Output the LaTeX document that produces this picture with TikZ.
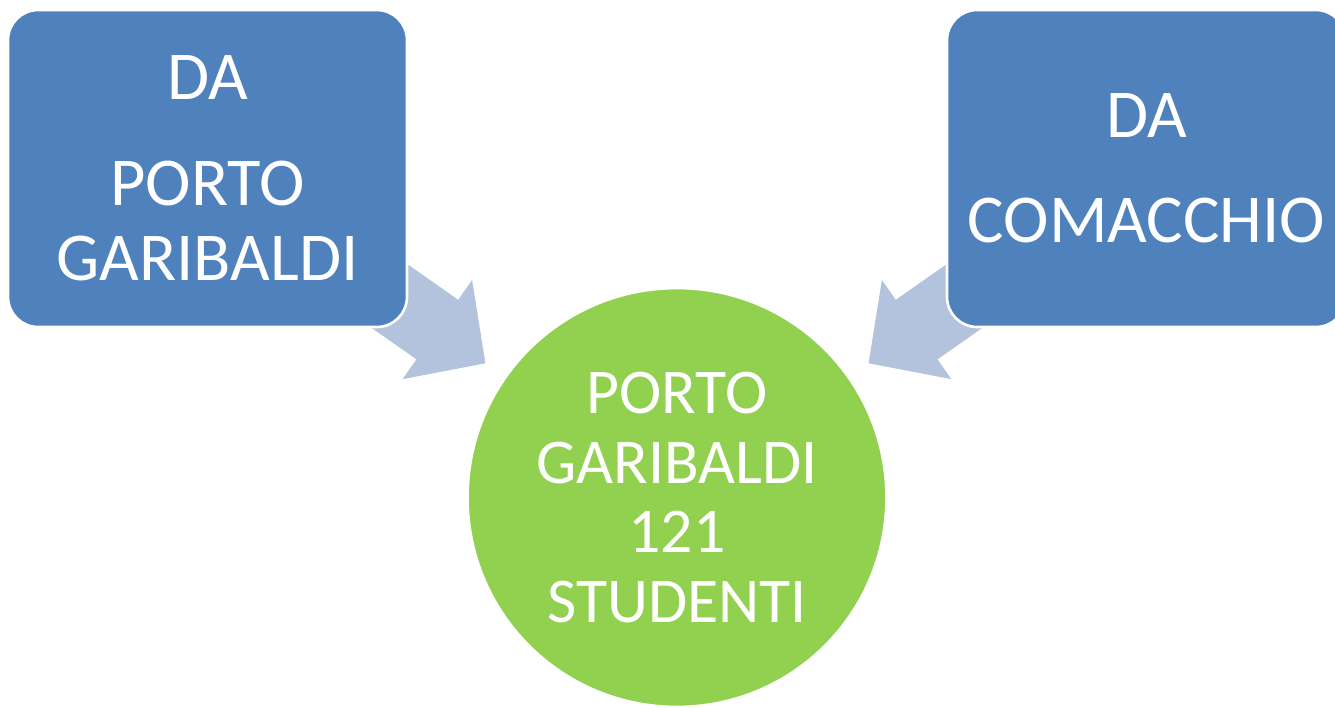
\documentclass[tikz,border=0pt]{standalone}
\usepackage{fontspec}
\setmainfont{Carlito}
\usetikzlibrary{arrows.meta,backgrounds}
\definecolor{boxblue}{RGB}{79,129,189}
\definecolor{hubgreen}{RGB}{146,208,80}
\definecolor{arrowblue}{RGB}{179,194,221}
\begin{document}
\begin{tikzpicture}[x=0.02cm,y=-0.02cm,
    srcbox/.style={rectangle,rounded corners=0.6cm,fill=boxblue,draw=white,line width=1.5pt,
      minimum width=7.98cm,minimum height=6.34cm,text=white,align=center,
      font=\fontsize{39}{43}\selectfont},
    hubcircle/.style={circle,fill=hubgreen,draw=white,line width=1.5pt,minimum size=8.38cm,
      inner sep=0pt,text=white,align=center,font=\fontsize{36.3}{39.7}\selectfont},
    flowarrow/.style={arrowblue,line width=41.4pt,shorten >=0.46cm,
      -{Triangle[width=66.9pt,length=33.5pt]}}]
    \useasboundingbox (0,0) rectangle (1335,707);
    \node[srcbox] (pg) at (207.5,168.5) {DA\\[17pt]PORTO\\GARIBALDI};
    \node[srcbox] (com) at (1146.5,168.5) {DA\\[17pt]COMACCHIO};
    \node[hubcircle] (gar) at (677,497.5) {PORTO\\GARIBALDI\\121\\STUDENTI};
    % arrows go under the boxes
    \begin{scope}[on background layer]
      \draw[flowarrow] (pg.center) -- (gar);
      \draw[flowarrow] (com.center) -- (gar);
    \end{scope}
  \end{tikzpicture}
\end{document}
